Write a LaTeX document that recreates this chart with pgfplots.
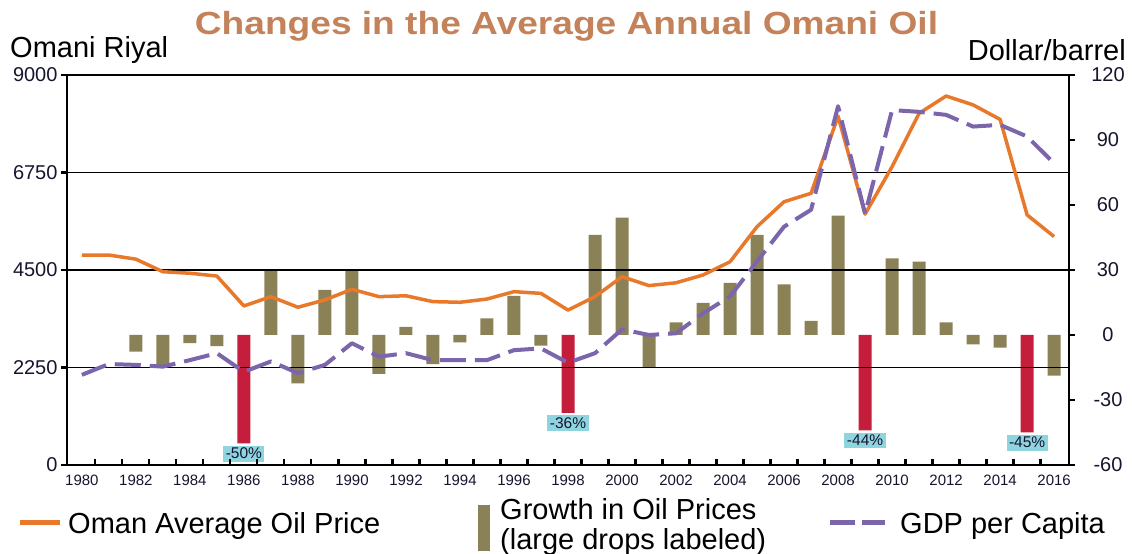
\documentclass[border=0pt]{standalone}
\usepackage{pgfplots}
\pgfplotsset{compat=1.18}
\usepackage{fontspec}
\setmainfont{Liberation Sans}
\newfontfamily\titlefont[FakeStretch=1.16]{Liberation Sans}
\definecolor{oilorange}{HTML}{E8782A}
\definecolor{gdppurple}{HTML}{7B65AC}
\definecolor{growolive}{HTML}{8A8256}
\definecolor{dropred}{HTML}{C41E3C}
\definecolor{labelcyan}{HTML}{8FD5E0}
\definecolor{titlecol}{HTML}{C4825A}
\definecolor{tickcol}{HTML}{15152E}

\pgfplotsset{
  base/.style={scale only axis, width=1002bp, height=390bp,
    at={(0,0)}, anchor=south west, xmin=1979.45, xmax=2016.55, clip=false,
    /pgf/number format/1000 sep={}, /pgf/number format/assume math mode=true},
}

\begin{document}
\begin{tikzpicture}
\useasboundingbox (-67bp,-89bp) rectangle (1065bp,465bp);

% growth bars (right scale, percent)
\begin{axis}[base, ymin=-60, ymax=120, hide axis]
\addplot[ybar, bar width=13bp, fill=growolive, draw=none] coordinates {
 (1982,-7.7) (1983,-13.8) (1984,-3.8) (1985,-5.1) (1987,30) (1988,-22.3)
 (1989,20.8) (1990,29.7) (1991,-18) (1992,3.8) (1993,-13.4) (1994,-3.4)
 (1995,7.7) (1996,18) (1997,-4.9) (1999,46.2) (2000,54.2) (2001,-15)
 (2002,5.8) (2003,14.8) (2004,24.1) (2005,46.2) (2006,23.4) (2007,6.5)
 (2008,55.1) (2010,35.4) (2011,33.9) (2012,5.8) (2013,-4.3) (2014,-5.8)
 (2016,-18.8)
};
\addplot[ybar, bar width=13bp, fill=dropred, draw=none,
  nodes near coords, point meta=explicit symbolic, nodes near coords align={below},
  every node near coord/.append style={anchor=north, yshift=-2bp, fill=labelcyan,
    text=tickcol, inner sep=2.5bp, font=\fontsize{15.5bp}{15.5bp}\selectfont}]
  coordinates {(1986,-50)[-50\%] (1998,-36)[-36\%] (2009,-44)[-44\%] (2015,-45)[-45\%]};
\end{axis}

% frame, grid, left scale and year ticks
\begin{axis}[base, ymin=0, ymax=9000,
  xtick={1980.5,1981.5,...,2015.5}, xticklabels={}, xtick pos=bottom, xtick align=inside,
  ytick={0,2250,4500,6750,9000}, ytick pos=left, ytick align=outside,
  ymajorgrids, grid style={black, line width=1.8bp},
  axis line style={black, line width=2.2bp},
  major tick length=6bp, tick style={black, line width=2.2bp},
  yticklabel style={font=\fontsize{20bp}{20bp}\selectfont, text=tickcol}]
\end{axis}

% year labels
\begin{axis}[base, ymin=0, ymax=9000, hide y axis, axis x line*=bottom,
  axis line style={black, line width=2.2bp, -},
  xtick={1980,1982,...,2016}, major tick length=0pt,
  xticklabel style={font=\fontsize{15bp}{15bp}\selectfont, text=tickcol, yshift=-7bp}]
\end{axis}

% oil price (right scale)
\begin{axis}[base, ymin=-60, ymax=120, axis x line=none, axis y line*=right,
  axis line style={black, line width=2.2bp, -},
  ytick={-60,-30,...,120}, ytick align=outside,
  major tick length=6bp, tick style={black, line width=2.2bp},
  yticklabel style={font=\fontsize{20bp}{20bp}\selectfont, text=tickcol,
    anchor=center, xshift=33bp}]
\addplot[oilorange, line width=3.5bp, line join=round] coordinates {
 (1980,36.9) (1981,36.9) (1982,35.0) (1983,29.2) (1984,28.5) (1985,27.2)
 (1986,13.4) (1987,17.7) (1988,12.8) (1989,16.2) (1990,21.1) (1991,17.7)
 (1992,18.1) (1993,15.4) (1994,15.1) (1995,16.6) (1996,20.0) (1997,19.2)
 (1998,11.5) (1999,17.7) (2000,26.9) (2001,22.8) (2002,24.1) (2003,27.7)
 (2004,33.8) (2005,50.0) (2006,61.5) (2007,65.4) (2008,101) (2009,55.8)
 (2010,77.7) (2011,102.3) (2012,110.3) (2013,106.2) (2014,99.5) (2015,55.4)
 (2016,45.4)
};
\end{axis}

% GDP per capita (left scale)
\begin{axis}[base, ymin=0, ymax=9000, hide axis]
\addplot[gdppurple, line width=4bp, dash pattern=on 26bp off 9bp, line join=round] coordinates {
 (1980,2080) (1981,2330) (1982,2310) (1983,2270) (1984,2420) (1985,2580)
 (1986,2150) (1987,2390) (1988,2120) (1989,2310) (1990,2810) (1991,2500)
 (1992,2580) (1993,2420) (1994,2420) (1995,2420) (1996,2650) (1997,2690)
 (1998,2360) (1999,2580) (2000,3130) (2001,3000) (2002,3040) (2003,3500)
 (2004,3890) (2005,4700) (2006,5500) (2007,5890) (2008,8280) (2009,5800)
 (2010,8190) (2011,8150) (2012,8080) (2013,7810) (2014,7850) (2015,7580)
 (2016,6960)
};
\end{axis}

% titles
\node[anchor=base, text=titlecol, font=\titlefont\bfseries\fontsize{32bp}{32bp}\selectfont]
  at (499.5bp,430.5bp) {Changes in the Average Annual Omani Oil};
\node[anchor=base west, inner sep=0, font=\fontsize{29bp}{29bp}\selectfont]
  at (-57bp,407bp) {Omani Riyal};
\node[anchor=base east, inner sep=0, font=\fontsize{29bp}{29bp}\selectfont]
  at (1059bp,404bp) {Dollar/barrel};

% legend
\draw[oilorange, line width=5bp] (-47bp,-57bp) -- (-7bp,-57bp);
\node[anchor=base west, inner sep=0, font=\fontsize{29bp}{29bp}\selectfont]
  at (1bp,-68bp) {Oman Average Oil Price};
\fill[growolive] (411bp,-40bp) rectangle (423bp,-86bp);
\node[anchor=base west, inner sep=0, font=\fontsize{29bp}{29bp}\selectfont]
  at (433bp,-54bp) {Growth in Oil Prices};
\node[anchor=base west, inner sep=0, font=\fontsize{29bp}{29bp}\selectfont]
  at (433bp,-84bp) {(large drops labeled)};
\draw[gdppurple, line width=5bp] (763bp,-57bp) -- (788bp,-57bp) (795bp,-57bp) -- (818bp,-57bp);
\node[anchor=base west, inner sep=0, font=\fontsize{29bp}{29bp}\selectfont]
  at (833bp,-68bp) {GDP per Capita};
\end{tikzpicture}
\end{document}
